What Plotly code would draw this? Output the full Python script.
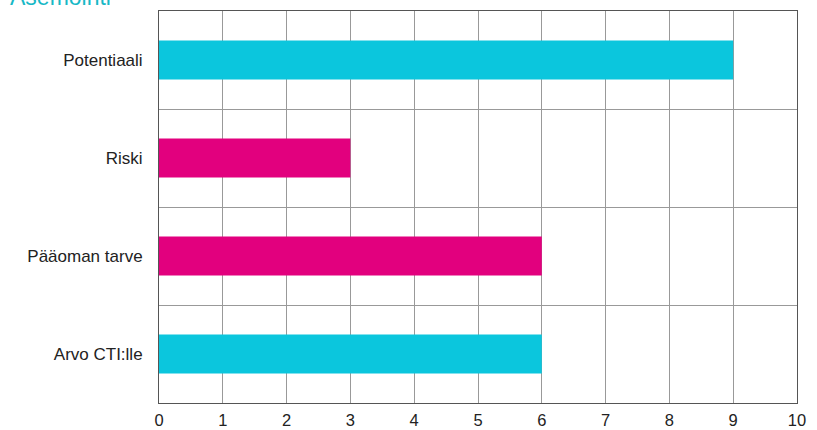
import plotly.graph_objects as go

categories = ["Potentiaali", "Riski", "Pääoman tarve", "Arvo CTI:lle"]
values = [9, 3, 6, 6]
colors = ["#0BC6DD", "#E2007E", "#E2007E", "#0BC6DD"]
x_ticks = list(range(0, 11))

fig = go.Figure(go.Bar(
    y=categories, x=values, orientation="h",
    marker=dict(color=colors, line=dict(width=0)),
    width=0.4,
))

fig.update_layout(
    width=817, height=430,
    margin=dict(l=159, r=20, t=11, b=27, autoexpand=False),
    paper_bgcolor="white", plot_bgcolor="white",
    showlegend=False,
    font=dict(family="Liberation Sans, Arial, sans-serif", size=17, color="#222222"),
    xaxis=dict(
        range=[0, 10], tickvals=x_ticks, showgrid=True, gridcolor="#999999", gridwidth=1,
        zeroline=False, showline=True, linecolor="#555555", linewidth=1, mirror=True,
        ticks="", tickfont=dict(size=16.5), ticklabelstandoff=2, automargin=False,
    ),
    yaxis=dict(
        type="category", categoryorder="array", categoryarray=categories[::-1],
        tickson="boundaries", showgrid=True, gridcolor="#999999", gridwidth=1,
        showline=True, linecolor="#555555", linewidth=1, mirror=True,
        ticks="", tickfont=dict(size=17), ticklabelstandoff=12, automargin=False,
    ),
    annotations=[dict(
        text="Asemointi", xref="paper", yref="paper", x=-0.2367, y=1,
        xanchor="left", yanchor="bottom", showarrow=False, yshift=-1,
        font=dict(size=23, color="#18B8C6", family="Liberation Sans, Arial, sans-serif"),
    )],
)

fig.write_html("out.html")
